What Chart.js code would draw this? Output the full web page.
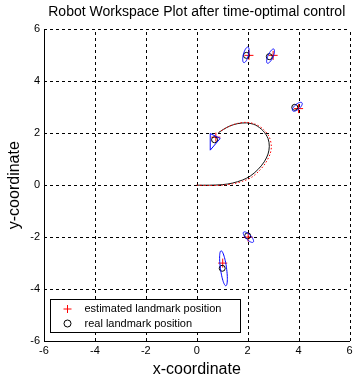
<!DOCTYPE html>
<html>
<head>
<meta charset="utf-8">
<script src="https://cdn.jsdelivr.net/npm/chart.js@4.4.1/dist/chart.umd.min.js"></script>
<style>
html,body{margin:0;padding:0;background:#fff;}
#wrap{width:355px;height:381px;}
</style>
</head>
<body>
<div id="wrap"><canvas id="c" width="355" height="381"></canvas></div>
<script>
// ---- data ----
const realPathX = [0, 0.5, 1.0, 1.4, 1.8, 2.1, 2.4, 2.65, 2.8, 2.85, 2.8, 2.6, 2.3, 1.95, 1.6, 1.3, 1.05, 0.85];
const realPathY = [0, 0.0, 0.02, 0.08, 0.2, 0.35, 0.6, 0.9, 1.2, 1.5, 1.8, 2.1, 2.32, 2.4, 2.37, 2.28, 2.15, 2.02];
const estPathX  = [0, 0.5, 1.0, 1.4, 1.8, 2.15, 2.45, 2.7, 2.88, 2.93, 2.85, 2.62, 2.3, 1.95, 1.6, 1.3, 1.05, 0.88];
const estPathY  = [0, -0.01, 0.0, 0.05, 0.15, 0.3, 0.55, 0.85, 1.2, 1.5, 1.85, 2.15, 2.35, 2.42, 2.38, 2.28, 2.15, 2.04];

const realLmX = [1.95, 2.85, 3.85, 0.7, 2.0, 1.0];
const realLmY = [5.0, 4.95, 3.0, 1.75, -1.95, -3.2];
const estLmX  = [2.05, 3.0, 4.0, 0.75, 2.02, 1.02];
const estLmY  = [5.0, 5.0, 2.95, 1.85, -2.0, -3.0];

// covariance ellipses: centre, semi-axes, tilt (degrees)
const ellCx    = [1.93, 2.9, 3.95, 2.03, 1.05];
const ellCy    = [5.02, 4.97, 3.02, -2.0, -3.2];
const ellMajor = [0.31, 0.3, 0.24, 0.27, 0.68];
const ellMinor = [0.1, 0.1, 0.1, 0.1, 0.12];
const ellAngle = [75, 65, 40, -45, 98];

// degenerate (triangle-shaped) covariance outline near (0.6, 1.7)
const triX = [0.53, 0.92, 0.53, 0.53];
const triY = [1.99, 1.8, 1.35, 1.99];

const xTicks = [-6, -4, -2, 0, 2, 4, 6];
const yTicks = [-6, -4, -2, 0, 2, 4, 6];

const titleText = 'Robot Workspace Plot after time-optimal control';
const xTitle = 'x-coordinate';
const yTitle = 'y-coordinate';
const legendLabels = ['estimated landmark position', 'real landmark position'];

// ---- build ----
const FONT = "'Liberation Sans', Arial, sans-serif";
const pts = (xs, ys) => xs.map((x, i) => ({x: x, y: ys[i]}));

const gridPlugin = {
  id: 'dashGrid',
  beforeDatasetsDraw(chart) {
    const {ctx, chartArea, scales} = chart;
    ctx.save();
    ctx.strokeStyle = '#000';
    ctx.lineWidth = 1;
    ctx.setLineDash([3, 3]);
    xTicks.forEach(v => {
      const p = Math.round(scales.x.getPixelForValue(v)) + 0.5;
      if (v === -6) return;
      ctx.beginPath(); ctx.moveTo(p, chartArea.bottom); ctx.lineTo(p, chartArea.top); ctx.stroke();
    });
    yTicks.forEach(v => {
      const p = Math.round(scales.y.getPixelForValue(v)) + 0.5;
      if (v === -6) return;
      ctx.beginPath(); ctx.moveTo(chartArea.left, p); ctx.lineTo(chartArea.right, p); ctx.stroke();
    });
    ctx.restore();
  }
};

const ellipsePlugin = {
  id: 'ellipses',
  afterDatasetsDraw(chart) {
    const {ctx, chartArea, scales} = chart;
    const xs = scales.x, ys = scales.y;
    ctx.save();
    ctx.beginPath();
    ctx.rect(chartArea.left, chartArea.top, chartArea.right - chartArea.left, chartArea.bottom - chartArea.top);
    ctx.clip();
    ctx.strokeStyle = '#0000ff';
    ctx.lineWidth = 1;
    for (let k = 0; k < ellCx.length; k++) {
      const a = ellAngle[k] * Math.PI / 180;
      ctx.beginPath();
      for (let i = 0; i <= 60; i++) {
        const t = i / 60 * 2 * Math.PI;
        const u = ellMajor[k] * Math.cos(t), v = ellMinor[k] * Math.sin(t);
        const dx = ellCx[k] + u * Math.cos(a) - v * Math.sin(a);
        const dy = ellCy[k] + u * Math.sin(a) + v * Math.cos(a);
        const px = xs.getPixelForValue(dx), py = ys.getPixelForValue(dy);
        if (i === 0) ctx.moveTo(px, py); else ctx.lineTo(px, py);
      }
      ctx.stroke();
    }
    ctx.restore();
  }
};

const legendPlugin = {
  id: 'boxLegend',
  afterDraw(chart) {
    const {ctx, chartArea} = chart;
    const L = Math.round(chartArea.left) + 6.5, B = Math.round(chartArea.bottom) - 8.5;
    const W = 190, H = 33;
    const T = B - H;
    ctx.save();
    ctx.fillStyle = '#fff';
    ctx.fillRect(L, T, W, H);
    ctx.strokeStyle = '#000';
    ctx.lineWidth = 1;
    ctx.strokeRect(L, T, W, H);
    const mx = L + 17;
    ctx.strokeStyle = '#ff0000';
    ctx.beginPath();
    ctx.moveTo(mx - 4, T + 9.5); ctx.lineTo(mx + 4, T + 9.5);
    ctx.moveTo(mx, T + 5.5); ctx.lineTo(mx, T + 13.5);
    ctx.stroke();
    ctx.strokeStyle = '#000';
    ctx.beginPath();
    ctx.arc(mx, T + 24, 3.5, 0, 2 * Math.PI);
    ctx.stroke();
    ctx.fillStyle = '#000';
    ctx.font = '11px ' + FONT;
    ctx.textBaseline = 'middle';
    ctx.fillText(legendLabels[0], L + 34, T + 9.5);
    ctx.fillText(legendLabels[1], L + 34, T + 24);
    ctx.restore();
  }
};

new Chart(document.getElementById('c'), {
  type: 'scatter',
  data: {
    datasets: [
      {label: 'est path', data: pts(estPathX, estPathY), showLine: true, borderColor: '#ff0000', borderWidth: 1, borderDash: [1.5, 2], pointRadius: 0, tension: 0.3},
      {label: 'real path', data: pts(realPathX, realPathY), showLine: true, borderColor: '#111', borderWidth: 1, pointRadius: 0, tension: 0.3},
      {label: 'triangle', data: pts(triX, triY), showLine: true, borderColor: '#0000ff', borderWidth: 1, pointRadius: 0, tension: 0},
      {label: legendLabels[1], data: pts(realLmX, realLmY), pointStyle: 'circle', pointRadius: 3, borderColor: '#000', backgroundColor: 'rgba(0,0,0,0)', borderWidth: 1},
      {label: legendLabels[0], data: pts(estLmX, estLmY), pointStyle: 'cross', pointRadius: 4.5, borderColor: '#ff0000', borderWidth: 1}
    ]
  },
  options: {
    responsive: false,
    animation: false,
    layout: {padding: {left: 0, right: 0, top: 0, bottom: 0}},
    plugins: {
      legend: {display: false},
      tooltip: {enabled: false},
      title: {display: true, text: titleText, fullSize: false, color: '#000', font: {family: FONT, size: 14, weight: 'normal'}, padding: {top: 4, bottom: 8.6}}
    },
    scales: {
      x: {
        type: 'linear', min: -6, max: 6,
        afterBuildTicks: (s) => { s.ticks = xTicks.map(v => ({value: v})); },
        afterFit: (s) => { s.height = 40; s.paddingRight = 1; },
        ticks: {color: '#000', font: {family: FONT, size: 11}, padding: 3, maxRotation: 0},
        grid: {display: false, drawOnChartArea: false, drawTicks: false},
        border: {display: true, color: '#000', width: 1},
        title: {display: true, text: xTitle, color: '#000', font: {family: FONT, size: 16}, padding: {top: 0, bottom: 2}}
      },
      y: {
        type: 'linear', min: -6, max: 6,
        afterBuildTicks: (s) => { s.ticks = yTicks.map(v => ({value: v})); },
        afterFit: (s) => { s.width = 44; },
        ticks: {color: '#000', font: {family: FONT, size: 11}, padding: 4},
        grid: {display: false, drawOnChartArea: false, drawTicks: false},
        border: {display: true, color: '#000', width: 1},
        title: {display: true, text: yTitle, color: '#000', font: {family: FONT, size: 16}, padding: {top: 5, bottom: 0}}
      }
    }
  },
  plugins: [gridPlugin, ellipsePlugin, legendPlugin]
});
</script>
</body>
</html>
